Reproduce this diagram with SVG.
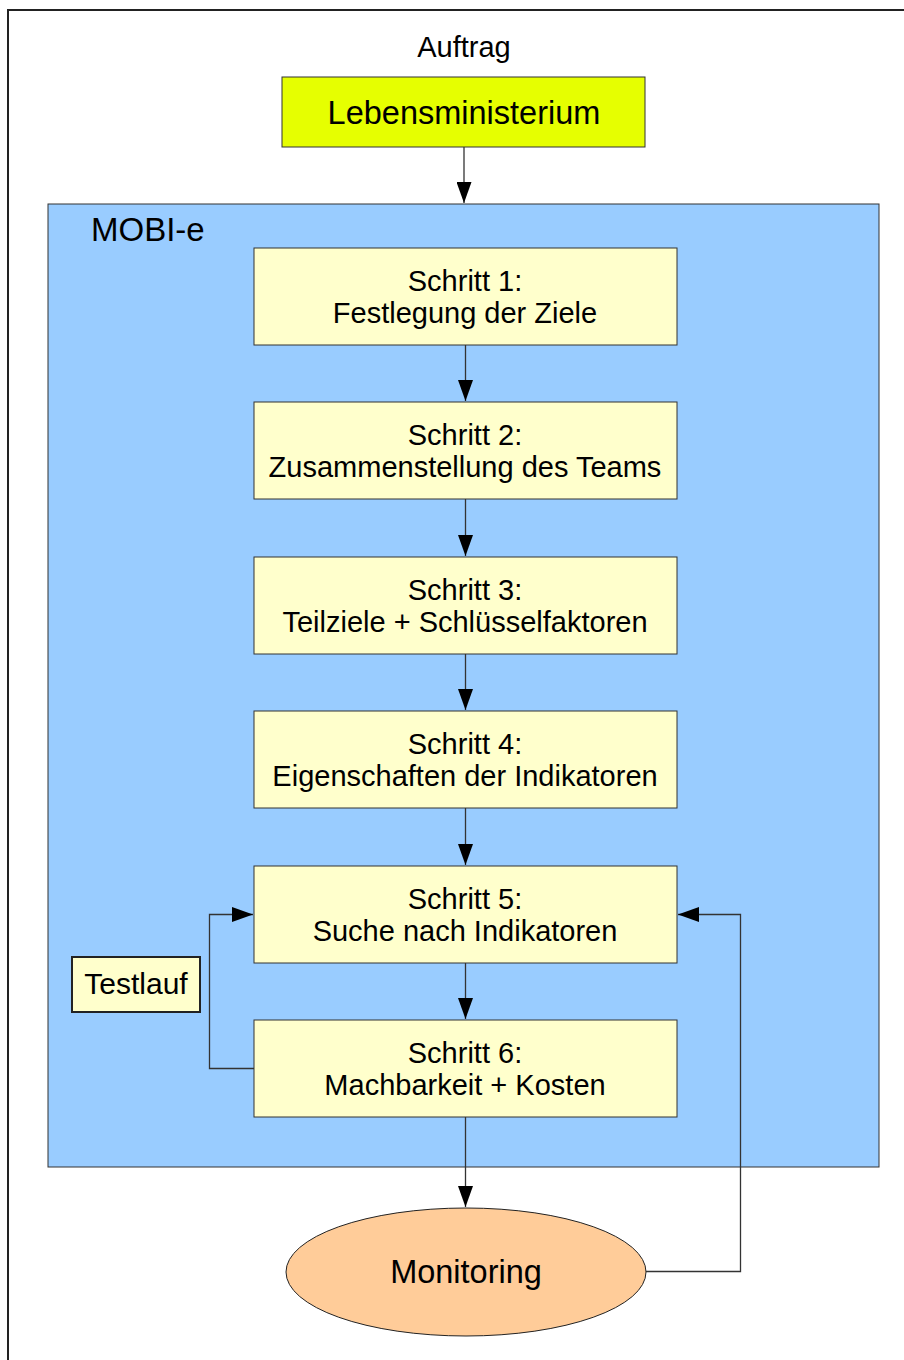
<svg xmlns="http://www.w3.org/2000/svg" width="904" height="1360" viewBox="0 0 904 1360">
<style>
text{font-family:"Liberation Sans",Arial,sans-serif;fill:#000;text-anchor:middle}
.step{fill:#ffffcc;stroke:#333;stroke-width:1}
.t26{font-size:29px}
.conn{fill:none;stroke:#333;stroke-width:1.3}
</style>
<defs>
<marker id="arr" markerWidth="21" markerHeight="15" refX="21" refY="7.5" orient="auto" markerUnits="userSpaceOnUse">
<path d="M0,0 L21,7.5 L0,15 Z" fill="#000"/>
</marker>
</defs>
<rect x="0" y="0" width="904" height="1360" fill="#fff"/>
<rect id="frame" x="8" y="10" width="910" height="1370" fill="#fff" stroke="#222" stroke-width="2"/>
<g id="auftrag"><text x="464" y="57" font-size="29">Auftrag</text></g>
<g id="lebensministerium">
<rect x="282" y="77" width="363" height="70" fill="#e6ff00" stroke="#333" stroke-width="1"/>
<text x="464" y="124" font-size="32.5">Lebensministerium</text>
</g>
<g id="mobi-e">
<rect x="48" y="204" width="831" height="963" fill="#99ccff" stroke="#333" stroke-width="1"/>
<text x="91" y="241" font-size="33" style="text-anchor:start">MOBI-e</text>
</g>
<g id="schritt1"><rect class="step" x="254" y="248" width="423" height="97"/><text x="465" y="291" class="t26">Schritt 1:</text><text x="465" y="323" class="t26">Festlegung der Ziele</text></g>
<g id="schritt2"><rect class="step" x="254" y="402" width="423" height="97"/><text x="465" y="445" class="t26">Schritt 2:</text><text x="465" y="477" class="t26">Zusammenstellung des Teams</text></g>
<g id="schritt3"><rect class="step" x="254" y="557" width="423" height="97"/><text x="465" y="600" class="t26">Schritt 3:</text><text x="465" y="632" class="t26">Teilziele + Schlüsselfaktoren</text></g>
<g id="schritt4"><rect class="step" x="254" y="711" width="423" height="97"/><text x="465" y="754" class="t26">Schritt 4:</text><text x="465" y="786" class="t26">Eigenschaften der Indikatoren</text></g>
<g id="schritt5"><rect class="step" x="254" y="866" width="423" height="97"/><text x="465" y="909" class="t26">Schritt 5:</text><text x="465" y="941" class="t26">Suche nach Indikatoren</text></g>
<g id="schritt6"><rect class="step" x="254" y="1020" width="423" height="97"/><text x="465" y="1063" class="t26">Schritt 6:</text><text x="465" y="1095" class="t26">Machbarkeit + Kosten</text></g>
<g id="testlauf"><rect x="72" y="957" width="128" height="55" fill="#ffffcc" stroke="#222" stroke-width="2"/><text x="136" y="994" font-size="30">Testlauf</text></g>
<g id="monitoring"><ellipse cx="466" cy="1272" rx="180" ry="64" fill="#ffcc99" stroke="#222" stroke-width="1"/><text x="466" y="1283" font-size="32.5">Monitoring</text></g>
<g id="connectors">
<path class="conn" d="M464,147 V203" marker-end="url(#arr)"/>
<path class="conn" d="M465.5,345 V401" marker-end="url(#arr)"/>
<path class="conn" d="M465.5,499 V556" marker-end="url(#arr)"/>
<path class="conn" d="M465.5,654 V710" marker-end="url(#arr)"/>
<path class="conn" d="M465.5,808 V865" marker-end="url(#arr)"/>
<path class="conn" d="M465.5,963 V1019" marker-end="url(#arr)"/>
<path class="conn" d="M465.5,1117 V1207" marker-end="url(#arr)"/>
<path class="conn" d="M254,1068.5 H209.5 V914.5 H253" marker-end="url(#arr)"/>
<path class="conn" d="M646,1271.5 H740.5 V914.5 H678" marker-end="url(#arr)"/>
</g>
</svg>
